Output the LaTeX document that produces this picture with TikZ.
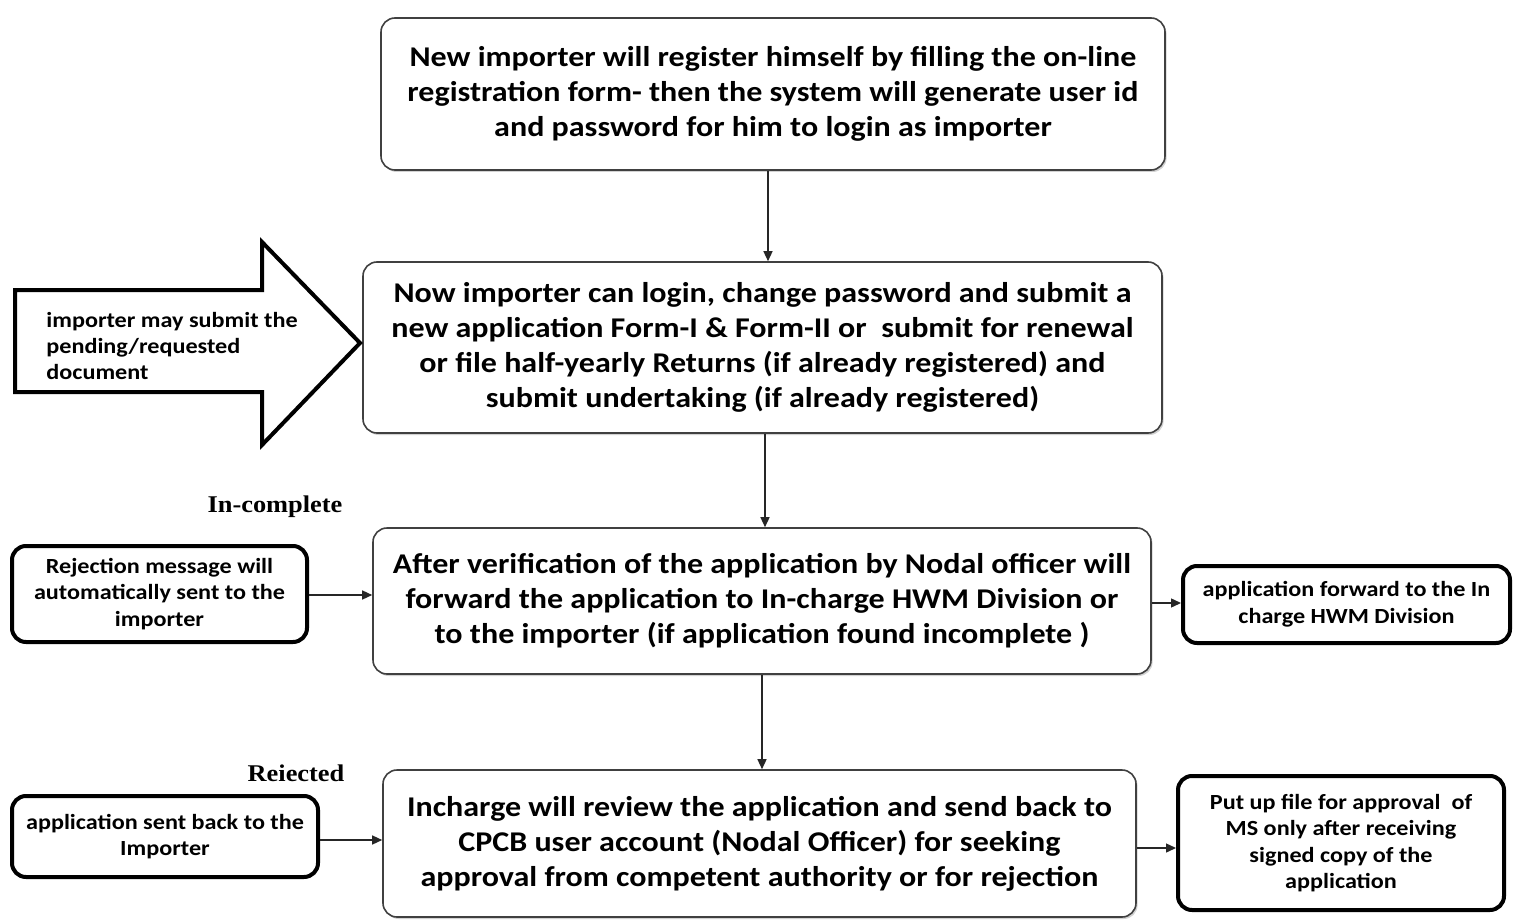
\documentclass[tikz,border=0pt]{standalone}
\usepackage{fontspec}
\setmainfont{Carlito}[FakeStretch=1.12]
\newfontfamily\labfont{Liberation Serif}[FakeStretch=1.1]
\usetikzlibrary{arrows.meta,shadows}
\begin{document}
\begin{tikzpicture}[x=0.5pt,y=-0.5pt,
  mainbox/.style={draw=black!75,line width=0.8pt,rounded corners=7pt,fill=white,
    align=center,inner sep=0pt,font=\bfseries\fontsize{14.3}{17.5}\selectfont,
    drop shadow={opacity=0.35,shadow xshift=0.8pt,shadow yshift=-1pt}},
  sidebox/.style={draw=black,line width=2pt,rounded corners=7pt,fill=white,
    align=center,inner sep=0pt,font=\bfseries\fontsize{10.8}{13.3}\selectfont},
  lab/.style={font=\labfont\bfseries\fontsize{12}{14}\selectfont},
  arr/.style={draw=black!85,line width=0.7pt,-{Triangle[length=5pt,width=4.5pt]}}]
\useasboundingbox (0,0) rectangle (1521,920);
\fill[white] (0,0) rectangle (1521,920);

\node[mainbox,minimum width=392pt,minimum height=76pt] (b1) at (773,94)
  {New importer will register himself by filling the on-line\\registration form- then the system will generate user id\\and password for him to login as importer};
\node[mainbox,minimum width=399.5pt,minimum height=85.5pt] (b2) at (762.5,347.5)
  {Now importer can login, change password and submit a\\new application Form-I \& Form-II or\ \ submit for renewal\\or file half-yearly Returns (if already registered) and\\submit undertaking (if already registered)};
\node[mainbox,minimum width=389pt,minimum height=73pt] (b3) at (762,601)
  {After verification of the application by Nodal officer will\\forward the application to In-charge HWM Division or\\to the importer (if application found incomplete )};
\node[mainbox,minimum width=376.5pt,minimum height=73.5pt] (b4) at (759.5,843.5)
  {Incharge will review the application and send back to\\CPCB user account (Nodal Officer) for seeking\\approval from competent authority or for rejection};

\node[sidebox,minimum width=147.5pt,minimum height=48pt] (rej) at (159.5,594)
  {Rejection message will\\automatically sent to the\\importer};
\node[sidebox,minimum width=163.5pt,minimum height=38.5pt] (fwd) at (1346.5,604.5)
  {application forward to the In\\charge HWM Division};
\node[sidebox,minimum width=153pt,minimum height=40.5pt] (back) at (165,836.5)
  {application sent back to the\\Importer};
\node[sidebox,minimum width=163pt,minimum height=67pt] (put) at (1341,843)
  {Put up file for approval\ \ of\\MS only after receiving\\signed copy of the\\application};

\node[lab] (linc) at (275,507) {In-complete};
\node[lab] (lrej) at (296,773) {Reiected};

% big block arrow
\draw[line width=2pt,line join=miter,fill=white] (15,290) -- (262,290) -- (262,242) -- (360,343)
  -- (262,445) -- (262,392) -- (15,392) -- cycle;
\node[anchor=west,align=left,inner sep=0pt,font=\bfseries\fontsize{10.8}{13.1}\selectfont] (bigtxt) at (46,346)
  {importer may submit the\\pending/requested\\document};

\draw[arr] (b1.south -| 768,0) -- (b2.north -| 768,0);
\draw[arr] (b2.south -| 765,0) -- (b3.north -| 765,0);
\draw[arr] (b3.south -| 762,0) -- (b4.north -| 762,0);
\draw[arr] (rej.east |- 0,595) -- (b3.west |- 0,595);
\draw[arr] (b3.east |- 0,603) -- (fwd.west |- 0,603);
\draw[arr] (back.east |- 0,840) -- (b4.west |- 0,840);
\draw[arr] (b4.east |- 0,848) -- (put.west |- 0,848);
\end{tikzpicture}
\end{document}
